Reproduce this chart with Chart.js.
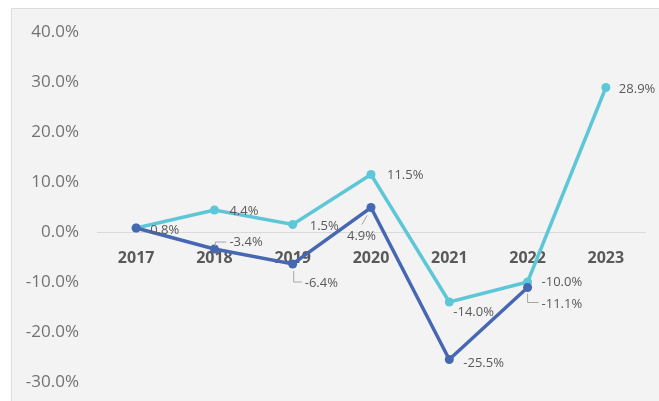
<!DOCTYPE html>
<html>
<head>
<meta charset="utf-8">
<script src="https://cdn.jsdelivr.net/npm/chart.js@4.4.1/dist/chart.umd.min.js"></script>
<style>
  html, body { margin: 0; padding: 0; background: #ffffff; }
  #wrap { width: 659px; height: 401px; }
</style>
</head>
<body>
<div id="wrap"><canvas id="grafico" width="659" height="401"></canvas></div>
<script>
// datos
const years = ["2017", "2018", "2019", "2020", "2021", "2022", "2023"];
const serieOscura = [0.8, -3.4, -6.4, 4.9, -25.5, -11.1, null];
const serieClara = [0.8, 4.4, 1.5, 11.5, -14.0, -10.0, 28.9];
const yTicks = [-30, -20, -10, 0, 10, 20, 30, 40];

const azulOscuro = "#4667b1";
const azulClaro = "#5ec7d7";

// donde va cada etiqueta respecto a su punto (null = sin etiqueta)
const etiquetasOscura = [
  { dx: 14, dy: 2 },
  { dx: 15, dy: -7, guia: [[1, -3], [1, -7], [12, -7]] },
  { dx: 12, dy: 19, guia: [[1, 7], [1, 18], [9, 18]] },
  { dx: -24, dy: 29, guia: [[-4, 8], [-9, 17]] },
  { dx: 14, dy: 4 },
  { dx: 14, dy: 17, guia: [[0, 6], [0, 15], [11, 15]] },
  null
];
const etiquetasClara = [
  null,
  { dx: 15, dy: 1 },
  { dx: 17, dy: 2 },
  { dx: 16, dy: 1 },
  { dx: 4, dy: 10 },
  { dx: 14, dy: 0 },
  { dx: 13, dy: 2 }
];

// fondo gris de la tarjeta
const fondo = {
  id: "fondo",
  beforeDraw(chart) {
    const ctx = chart.ctx;
    ctx.save();
    ctx.fillStyle = "#ffffff";
    ctx.fillRect(0, 0, chart.width, chart.height);
    ctx.fillStyle = "#f3f3f3";
    ctx.fillRect(11, 8, chart.width - 11, chart.height - 8);
    ctx.strokeStyle = "#dcdcdc";
    ctx.lineWidth = 1;
    ctx.beginPath();
    ctx.moveTo(11.5, chart.height);
    ctx.lineTo(11.5, 8.5);
    ctx.lineTo(chart.width, 8.5);
    ctx.stroke();
    ctx.restore();
  }
};

// etiquetas de valor con sus lineas guia
const etiquetas = {
  id: "etiquetas",
  afterDatasetsDraw(chart) {
    const ctx = chart.ctx;
    const listas = [etiquetasOscura, etiquetasClara];
    ctx.save();
    ctx.font = "13px 'Open Sans'";
    ctx.fillStyle = "#595959";
    ctx.textBaseline = "middle";
    chart.data.datasets.forEach((ds, i) => {
      const meta = chart.getDatasetMeta(i);
      meta.data.forEach((p, j) => {
        const conf = listas[i][j];
        if (!conf || ds.data[j] === null) return;
        if (conf.guia) {
          ctx.strokeStyle = "#a6a6a6";
          ctx.lineWidth = 1;
          ctx.beginPath();
          conf.guia.forEach((g, k) => {
            if (k === 0) ctx.moveTo(p.x + g[0], p.y + g[1]);
            else ctx.lineTo(p.x + g[0], p.y + g[1]);
          });
          ctx.stroke();
        }
        ctx.textAlign = "left";
        ctx.fillText(ds.data[j].toFixed(1) + "%", p.x + conf.dx, p.y + conf.dy);
      });
    });
    ctx.restore();
  }
};

new Chart(document.getElementById("grafico"), {
  type: "line",
  data: {
    labels: years,
    datasets: [
      {
        label: "A",
        data: serieOscura,
        borderColor: azulOscuro,
        backgroundColor: azulOscuro,
        borderWidth: 3.5,
        pointRadius: 4.5,
        pointBackgroundColor: azulOscuro,
        pointBorderWidth: 0,
        tension: 0
      },
      {
        label: "B",
        data: serieClara,
        borderColor: azulClaro,
        backgroundColor: azulClaro,
        borderWidth: 3.5,
        pointRadius: 4.5,
        pointBackgroundColor: azulClaro,
        pointBorderWidth: 0,
        tension: 0
      }
    ]
  },
  options: {
    responsive: false,
    animation: false,
    layout: { padding: { left: 11, right: 14, top: 32, bottom: 19 } },
    plugins: {
      legend: { display: false },
      tooltip: { enabled: false }
    },
    scales: {
      x: {
        position: { y: 0 },
        offset: true,
        afterFit(scale) {
          scale.height = 0;
          scale.paddingTop = 0;
          scale.paddingBottom = 0;
        },
        grid: { display: false, drawTicks: false },
        border: { display: true, color: "#d9d9d9", width: 1 },
        ticks: {
          padding: 17,
          color: "#595959",
          font: { family: "'Open Sans'", size: 16, weight: "bold" }
        }
      },
      y: {
        min: yTicks[0],
        max: yTicks[yTicks.length - 1],
        afterBuildTicks(scale) {
          scale.ticks = yTicks.map(v => ({ value: v }));
        },
        afterFit(scale) {
          scale.width = 86;
          scale.paddingTop = 0;
          scale.paddingBottom = 0;
        },
        grid: { display: false, drawTicks: false },
        border: { display: false },
        ticks: {
          padding: 18,
          color: "#737373",
          font: { family: "'Open Sans'", size: 17 },
          callback: v => v.toFixed(1) + "%"
        }
      }
    }
  },
  plugins: [fondo, etiquetas]
});
</script>
</body>
</html>
